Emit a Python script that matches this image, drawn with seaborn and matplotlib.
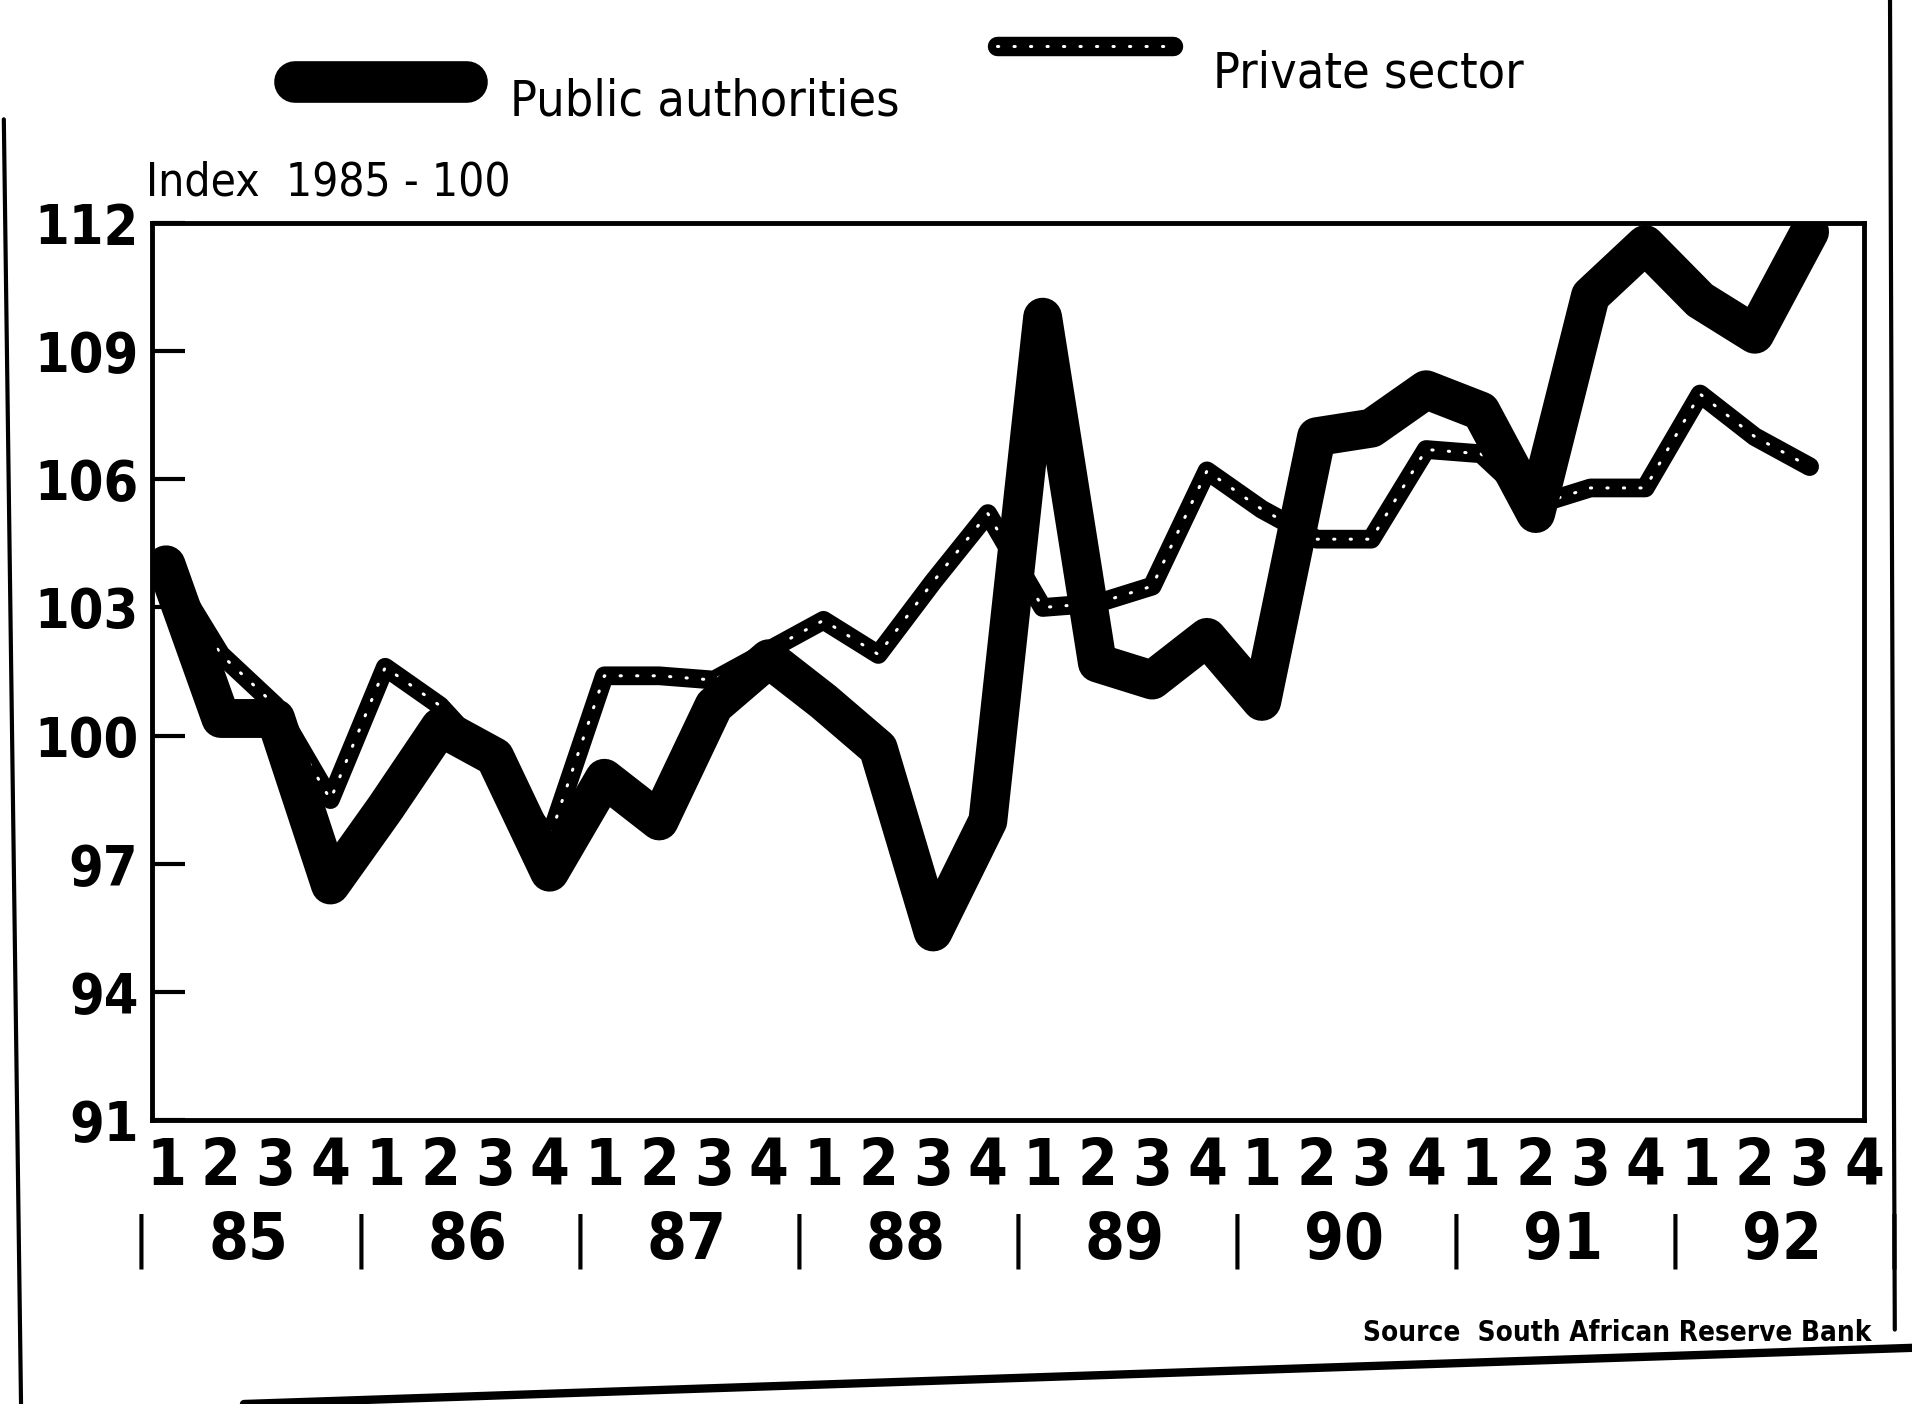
import numpy as np
import pandas as pd
import matplotlib
matplotlib.use("Agg")
import matplotlib.pyplot as plt
import matplotlib.transforms as mtransforms
from matplotlib.lines import Line2D
from matplotlib import font_manager as fm
import seaborn as sns

# ---------------- data ----------------
quarter_labels = ["1", "2", "3", "4"] * 8
years = ["85", "86", "87", "88", "89", "90", "91", "92"]
y_ticks = [91, 94, 97, 100, 103, 106, 109, 112]

public_authorities = [104.0, 100.4, 100.4, 96.5, 98.3, 100.2, 99.5, 96.8,
                      99.0, 98.0, 100.7, 101.8, 100.8, 99.7, 95.4, 98.0,
                      109.8, 101.7, 101.3, 102.3, 100.8, 107.0, 107.2, 108.1,
                      107.6, 105.2, 110.3, 111.5, 110.2, 109.4, 111.8]
private_sector = [104.0, 101.9, 100.7, 98.5, 101.6, 100.7, 99.3, 97.6,
                  101.4, 101.4, 101.3, 102.0, 102.7, 101.9, 103.6, 105.2,
                  103.0, 103.1, 103.5, 106.2, 105.3, 104.6, 104.6, 106.7,
                  106.6, 105.4, 105.8, 105.8, 108.0, 107.0, 106.3]
series_names = ["Public authorities", "Private sector"]

q_index = np.arange(len(public_authorities))
df = pd.DataFrame({
    "quarter": np.concatenate([q_index, q_index]),
    "value": public_authorities + private_sector,
    "series": [series_names[0]] * len(public_authorities) + [series_names[1]] * len(private_sector),
})

# ---------------- style ----------------
sns.set_style("white")
names = {f.name for f in fm.fontManager.ttflist}
if "Liberation Sans Narrow" in names:
    FAM = "Liberation Sans Narrow"
    STRETCH = "normal"
else:
    FAM = "DejaVu Sans"
    STRETCH = "condensed"
plt.rcParams["font.family"] = [FAM, "DejaVu Sans"]
plt.rcParams["font.stretch"] = STRETCH
for key in ["text.color", "axes.labelcolor", "xtick.color", "ytick.color"]:
    plt.rcParams[key] = "black"

fig = plt.figure(figsize=(19.12, 14.04), dpi=100)
ax = fig.add_axes([0.0797, 0.2024, 0.8954, 0.6386])

pub = df[df["series"] == series_names[0]]
prv = df[df["series"] == series_names[1]]

sns.lineplot(data=prv, x="quarter", y="value", ax=ax, color="black", lw=13.5,
             errorbar=None, legend=False, solid_joinstyle="round",
             solid_capstyle="round", zorder=3)
sns.lineplot(data=prv, x="quarter", y="value", ax=ax, color="white", lw=2.2,
             linestyle=(0, (0.4, 5)), errorbar=None, legend=False,
             dash_capstyle="round", zorder=4)
sns.lineplot(data=pub, x="quarter", y="value", ax=ax, color="black", lw=28,
             errorbar=None, legend=False, solid_joinstyle="round",
             solid_capstyle="round", zorder=5)

ax.set_xlim(-0.25, 31.0)
ax.set_ylim(91, 112)
ax.set_xticks(range(len(quarter_labels)))
ax.set_xticklabels(quarter_labels, fontsize=46, fontweight="bold")
ax.set_yticks(y_ticks)
ax.set_yticklabels([str(v) for v in y_ticks], fontsize=40, fontweight="bold")
ax.tick_params(axis="x", bottom=False, length=0, pad=12)
ax.tick_params(axis="y", left=True, direction="in", length=24, width=3, pad=10,
               color="black")
ax.set_xlabel("")
ax.set_ylabel("")
for sp in ax.spines.values():
    sp.set_color("black")
    sp.set_linewidth(3.5)

trans = mtransforms.blended_transform_factory(ax.transData, ax.transAxes)
for k, yr in enumerate(years):
    ax.text(4 * k + 1.5, -0.135, yr, transform=trans, ha="center", va="center",
            fontsize=46, fontweight="bold")
for k in range(len(years) + 1):
    ax.text(4 * k - 0.45, -0.135, "|", transform=trans, ha="center", va="center",
            fontsize=40)

# legend
fig.add_artist(Line2D([0.1543, 0.2443], [0.9418, 0.9418], color="black", lw=30,
                      solid_capstyle="round"))
fig.text(0.2666, 0.918, series_names[0], fontsize=36, ha="left", va="baseline")
fig.add_artist(Line2D([0.5217, 0.6135], [0.967, 0.967], color="black", lw=14,
                      solid_capstyle="round"))
fig.add_artist(Line2D([0.5217, 0.6135], [0.967, 0.967], color="white", lw=2.2,
                      linestyle=(0, (0.4, 5)), dash_capstyle="round"))
fig.text(0.6346, 0.9375, series_names[1], fontsize=36, ha="left", va="baseline")

fig.text(0.0765, 0.861, "Index  1985 - 100", fontsize=33, ha="left", va="baseline")
fig.text(0.979, 0.045, "Source  South African Reserve Bank", fontsize=20,
         fontweight="bold", ha="right", va="baseline")

# page edges of the scan
fig.add_artist(Line2D([0.002, 0.011], [0.915, 0.0], color="black", lw=3))
fig.add_artist(Line2D([0.9885, 0.991], [1.0, 0.053], color="black", lw=3))
fig.add_artist(Line2D([0.1276, 1.0], [0.0, 0.04], color="black", lw=6))

fig.savefig("out.png", dpi=100)
